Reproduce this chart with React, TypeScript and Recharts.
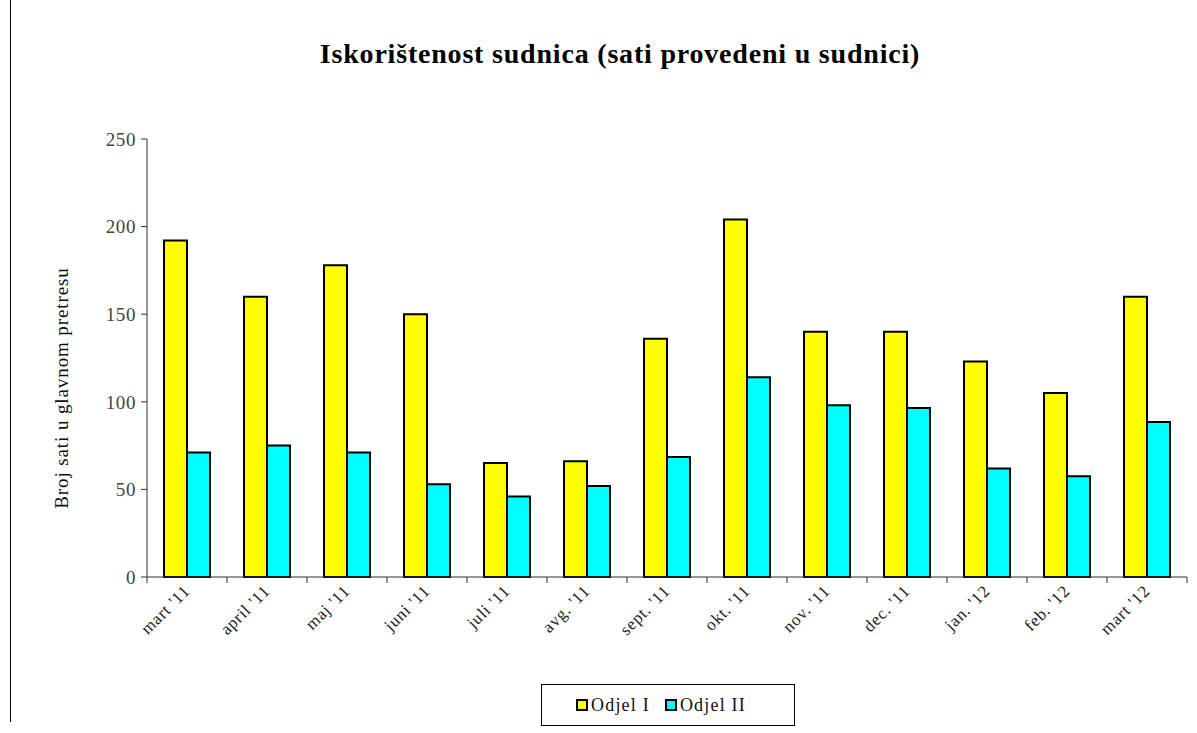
import { Bar, BarChart, XAxis, YAxis } from "recharts";

const months = [
  "mart '11", "april '11", "maj '11", "juni '11", "juli '11", "avg. '11", "sept. '11",
  "okt. '11", "nov. '11", "dec. '11", "jan. '12", "feb. '12", "mart '12"
];
const odjelI = [192, 160, 178, 150, 65, 66, 136, 204, 140, 140, 123, 105, 160];
const odjelII = [71, 75, 71, 53, 46, 52, 68.5, 114, 98, 96.5, 62, 57.5, 88.5];
const yTicks = [0, 50, 100, 150, 200, 250];

const data = months.map((m, i) => ({ month: m, odjelI: odjelI[i], odjelII: odjelII[i] }));

const FONT = '"Liberation Serif", "Times New Roman", serif';
const PLOT_LEFT = 147;
const PLOT_RIGHT = 1187;
const BAND = (PLOT_RIGHT - PLOT_LEFT) / months.length;

function MonthTick(props: any) {
  const { x, y, payload, index } = props;
  const last = index === months.length - 1;
  return (
    <g>
      <line x1={x - BAND / 2} x2={x - BAND / 2} y1={y} y2={y + 6} stroke="#333" />
      {last && <line x1={x + BAND / 2} x2={x + BAND / 2} y1={y} y2={y + 6} stroke="#333" />}
      <text
        x={x + 4}
        y={y + 15}
        textAnchor="end"
        transform={`rotate(-45 ${x + 4} ${y + 15})`}
        fontFamily={FONT}
        fontSize={17}
        letterSpacing={0.8}
        fill="#222"
      >
        {payload.value}
      </text>
    </g>
  );
}

function LegendBox() {
  const item = (color: string, label: string, gap: number) => (
    <span style={{ display: "inline-flex", alignItems: "center", marginRight: gap }}>
      <span style={{ width: 8, height: 8, background: color, border: "2px solid #000", marginRight: 3 }} />
      {label}
    </span>
  );
  return (
    <div
      style={{
        position: "absolute",
        left: 541,
        top: 684,
        width: 254,
        height: 42,
        border: "1px solid #000",
        display: "flex",
        alignItems: "center",
        boxSizing: "border-box",
        paddingLeft: 34,
        fontFamily: FONT,
        fontSize: 18,
        letterSpacing: 1.2,
        color: "#111"
      }}
    >
      {item("#ffff00", "Odjel I", 15)}
      {item("#00ffff", "Odjel II", 0)}
    </div>
  );
}

export default function App() {
  return (
    <div style={{ position: "absolute", left: 0, top: 0, width: 1197, height: 733, background: "#fff" }}>
      <div style={{ position: "absolute", left: 10, top: 0, width: 1, height: 722, background: "#000" }} />
      <div
        style={{
          position: "absolute",
          left: 0,
          width: 1240,
          top: 38,
          textAlign: "center",
          fontFamily: FONT,
          fontWeight: "bold",
          fontSize: 28,
          letterSpacing: 0.8,
          color: "#000"
        }}
      >
        Iskorištenost sudnica (sati provedeni u sudnici)
      </div>
      <div
        style={{
          position: "absolute",
          left: 62,
          top: 388,
          transform: "translate(-50%, -50%) rotate(-90deg)",
          whiteSpace: "nowrap",
          fontFamily: FONT,
          fontSize: 19,
          letterSpacing: 0.9,
          color: "#111"
        }}
      >
        Broj sati u glavnom pretresu
      </div>
      <div style={{ position: "absolute", left: 0, top: 0 }}>
        <BarChart
          width={1197}
          height={733}
          data={data}
          margin={{ top: 139, right: 1197 - PLOT_RIGHT, bottom: 56, left: 87 }}
          barGap={0}
          barSize={23}
        >
          <XAxis
            dataKey="month"
            height={100}
            interval={0}
            tickLine={false}
            tickSize={0}
            tickMargin={0}
            tick={<MonthTick />}
            axisLine={{ stroke: "#333", strokeWidth: 1 }}
          />
          <YAxis
            width={60}
            domain={[0, 250]}
            ticks={yTicks}
            tickSize={6}
            tickMargin={5}
            axisLine={{ stroke: "#333" }}
            tickLine={{ stroke: "#333" }}
            tick={{ fontFamily: FONT, fontSize: 19, fill: "#444", letterSpacing: 0.6 }}
          />
          <Bar dataKey="odjelI" name="Odjel I" fill="#ffff00" stroke="#000" strokeWidth={2} isAnimationActive={false} />
          <Bar dataKey="odjelII" name="Odjel II" fill="#00ffff" stroke="#000" strokeWidth={2} isAnimationActive={false} />
        </BarChart>
      </div>
      <LegendBox />
    </div>
  );
}
